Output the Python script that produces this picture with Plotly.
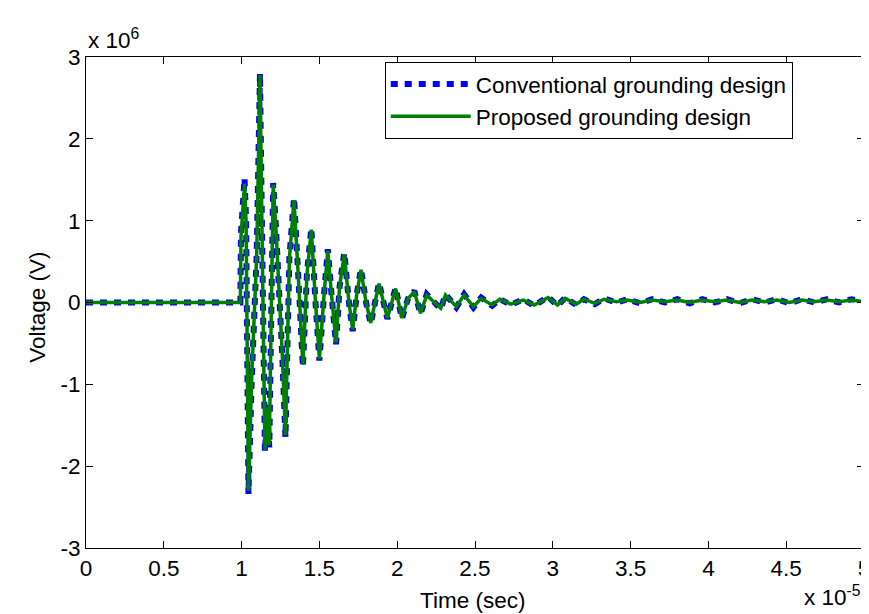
import plotly.graph_objects as go

# Time in units of 1e-5 s, voltage in units of 1e6 V
time_conv = [0.0, 0.5, 0.992, 0.996, 1.013, 1.019, 1.029, 1.044, 1.065, 1.097, 1.118, 1.140, 1.150, 1.165,
             1.178, 1.203, 1.220, 1.260, 1.282, 1.307, 1.337, 1.365, 1.394, 1.420, 1.448, 1.475, 1.500,
             1.530, 1.554, 1.580, 1.607, 1.630, 1.660, 1.690, 1.714, 1.740, 1.767, 1.800, 1.830, 1.883,
             1.937, 1.990, 2.030, 2.070, 2.110, 2.150, 2.190, 2.240, 2.280, 2.310, 2.380, 2.430, 2.490,
             2.540, 2.610, 2.660, 2.730, 2.810, 2.880, 2.970, 3.030, 3.080, 3.150, 3.200, 3.270, 3.330,
             3.410, 3.480, 3.560, 3.640, 3.720, 3.800, 3.880, 3.960, 4.040, 4.120, 4.200, 4.280, 4.360,
             4.440, 4.520, 4.600, 4.680, 4.760, 4.840, 4.920, 5.000]
volt_conv = [0.0, 0.0, 0.0, 0.85, 1.25, 1.52, 1.00, -2.34, -0.95, 0.59, 2.80, -0.79, -1.83, -1.30,
             -1.77, 1.46, 0.95, -0.60, -1.65, 0.55, 1.28, 0.30, -0.79, 0.35, 0.91, 0.00, -0.71,
             0.10, 0.65, 0.05, -0.51, 0.20, 0.61, 0.00, -0.35, 0.10, 0.41, 0.00, -0.26, 0.24,
             -0.20, 0.18, -0.20, 0.05, 0.14, -0.14, 0.10, 0.00, -0.08, 0.10, -0.06, 0.10, -0.06,
             0.06, -0.04, 0.04, -0.03, 0.04, -0.04, 0.07, -0.04, 0.06, -0.03, 0.04, -0.02, 0.05,
             0.00, 0.04, -0.01, 0.04, 0.00, 0.04, -0.01, 0.04, 0.00, 0.04, -0.01, 0.04, 0.00,
             0.04, -0.01, 0.04, 0.00, 0.04, 0.00, 0.04, 0.01]

time_prop = time_conv
volt_prop = [0.0, 0.0, 0.0, 0.80, 1.20, 1.45, 0.98, -2.30, -0.92, 0.57, 2.78, -0.76, -1.80, -1.28,
             -1.74, 1.44, 0.93, -0.58, -1.62, 0.53, 1.25, 0.30, -0.76, 0.34, 0.89, 0.00, -0.69,
             0.10, 0.63, 0.05, -0.49, 0.20, 0.59, 0.00, -0.33, 0.10, 0.40, 0.00, -0.25, 0.23,
             -0.19, 0.17, -0.19, 0.05, 0.13, -0.13, 0.09, 0.00, -0.07, 0.09, -0.05, 0.09, -0.05,
             0.05, -0.03, 0.04, -0.02, 0.03, -0.03, 0.06, -0.03, 0.05, -0.02, 0.04, -0.01, 0.04,
             0.01, 0.03, 0.00, 0.03, 0.01, 0.03, 0.00, 0.03, 0.01, 0.03, 0.00, 0.03, 0.01,
             0.03, 0.00, 0.03, 0.01, 0.03, 0.01, 0.03, 0.01]

x_ticks = [0, 0.5, 1, 1.5, 2, 2.5, 3, 3.5, 4, 4.5, 5]
x_ticklabels = ["0", "0.5", "1", "1.5", "2", "2.5", "3", "3.5", "4", "4.5", "5"]
y_ticks = [-3, -2, -1, 0, 1, 2, 3]
y_ticklabels = ["-3", "-2", "-1", "0", "1", "2", "3"]

FONT = "Liberation Sans, Arial, Helvetica, sans-serif"
FS = 22.5

fig = go.Figure()
fig.add_trace(go.Scatter(x=time_conv, y=volt_conv, mode="lines",
                         name="Conventional grounding design",
                         line=dict(color="rgb(0,0,255)", width=6, dash="7px,7px")))
fig.add_trace(go.Scatter(x=time_prop, y=volt_prop, mode="lines",
                         name="Proposed grounding design",
                         line=dict(color="rgb(0,128,0)", width=3.5)))

axis_common = dict(showline=True, linecolor="black", linewidth=1, mirror="ticks",
                   ticks="inside", ticklen=7, tickcolor="black", showgrid=False,
                   zeroline=False, tickfont=dict(family=FONT, size=FS, color="black"))

fig.update_xaxes(range=[0, 5], tickvals=x_ticks, ticktext=x_ticklabels, **axis_common)
fig.update_yaxes(range=[-3, 3], tickvals=y_ticks, ticktext=y_ticklabels, **axis_common)

fig.update_layout(
    width=869, height=614,
    margin=dict(l=78, r=7, t=49, b=74),
    plot_bgcolor="white", paper_bgcolor="white",
    font=dict(family=FONT, size=FS, color="black"),
    legend=dict(x=0.384, y=0.99, xanchor="left", yanchor="top",
                bordercolor="black", borderwidth=1, bgcolor="white",
                font=dict(family=FONT, size=FS, color="black"),
                itemwidth=80),
    annotations=[
        dict(text="Time (sec)", xref="paper", yref="paper", x=0.497, y=-0.106,
             xanchor="center", yanchor="middle", showarrow=False,
             font=dict(family=FONT, size=FS)),
        dict(text="Voltage (V)", xref="paper", yref="paper", x=-(78 - 29) / 784, y=0.49,
             xanchor="center", yanchor="middle", textangle=-90, showarrow=False,
             font=dict(family=FONT, size=FS)),
        dict(text="x 10<sup>6</sup>", xref="paper", yref="paper", x=0.0, y=1 + 18 / 491,
             xanchor="left", yanchor="middle", showarrow=False,
             font=dict(family=FONT, size=FS)),
        dict(text="x 10<sup>-5</sup>", xref="paper", yref="paper", x=0.999, y=-64 / 491,
             xanchor="right", yanchor="bottom", showarrow=False,
             font=dict(family=FONT, size=FS)),
    ],
)

fig.write_html("out.html")
